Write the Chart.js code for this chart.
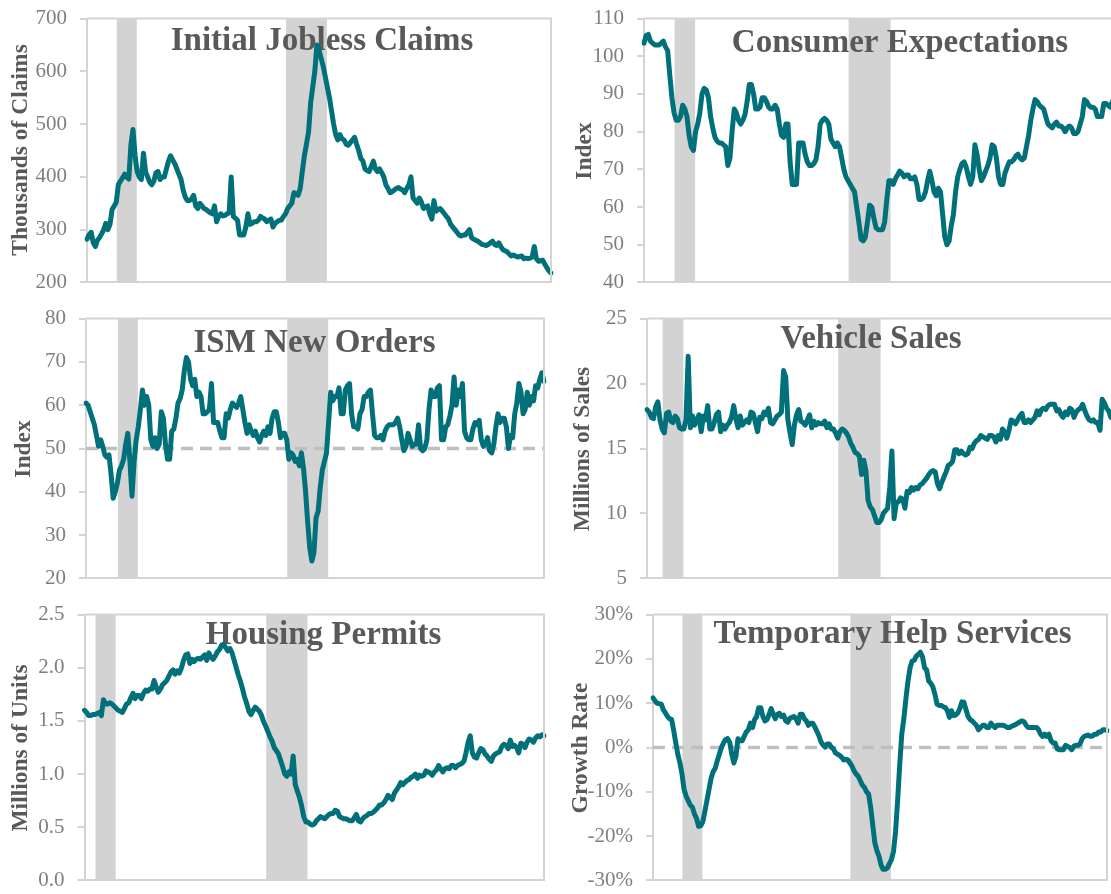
<!DOCTYPE html>
<html>
<head>
<meta charset="utf-8">
<script src="https://cdn.jsdelivr.net/npm/chart.js@4.4.1/dist/chart.umd.min.js"></script>
<style>
html,body{margin:0;padding:0;background:#fff;width:1111px;height:894px;overflow:hidden;position:relative;}
</style>
</head>
<body>
<script>
// ---------------- DATA ----------------
const recessions = [["2001-03", "2001-11"], ["2007-12", "2009-06"]];

const claimsStart = [1999, 12];
const claimsTicks = [200, 300, 400, 500, 600, 700];
const claimsValues = [
  282,
  290, 295, 275, 268, 280, 285, 292, 300, 312, 300, 310, 338,
  345, 352, 385, 392, 398, 405, 400, 396, 460, 490, 440, 410,
  400, 395, 445, 410, 400, 390, 385, 392, 408, 410, 395, 400,
  400, 415, 430, 440, 432, 425, 415, 405, 395, 375, 362, 355,
  355, 358, 365, 345, 340, 350, 345, 340, 338, 335, 332, 330,
  345, 315, 325, 330, 326, 327, 330, 332, 400, 325, 322, 318,
  290, 290, 290, 305, 330, 310, 312, 315, 315, 318, 325, 322,
  320, 315, 318, 320, 305, 312, 315, 318, 318, 325, 330, 340,
  345, 350, 370, 368, 365, 378, 410, 440, 462, 485, 540, 570,
  600, 650, 640, 625, 610, 590, 570, 550, 525, 500, 480, 470,
  480, 472, 470, 462, 460, 465, 470, 475, 462, 450, 435, 430,
  415, 412, 410, 420, 430, 415, 410, 415, 408, 400, 385, 378,
  370, 372, 375, 378, 380, 377, 375, 370, 378, 385, 400, 360,
  355, 350, 360, 352, 340, 343, 345, 330, 320, 355, 335, 338,
  340, 335, 330, 325, 320, 310, 305, 300, 295, 290, 288, 290,
  290, 295, 300, 285, 282, 280, 278, 275, 272, 271, 270, 272,
  275, 278, 272, 270, 275, 268, 262, 260, 258, 254, 250, 252,
  250, 248, 249, 250, 245, 246, 245, 246, 248, 268, 245, 240,
  241, 242, 235, 228, 222, 218
];

const expectationsStart = [1999, 12];
const expectationsTicks = [40, 50, 60, 70, 80, 90, 100, 110];
const expectationsValues = [
  103.5,
  105.5, 105.8, 104, 103.5, 103, 103, 103, 103.5, 104, 102.5, 101.5, 95,
  89, 85, 83, 83, 84, 87, 86, 84, 79, 76, 75, 80,
  82, 85, 90, 91.5, 91, 89, 84, 81, 78.5, 77.5, 77, 77,
  76.5, 76, 71, 73, 80, 86, 85, 83, 82, 83, 84.5, 88,
  92.5, 92.5, 90, 86, 86, 86.5, 89, 89, 88, 86.5, 86, 86,
  87, 86, 82, 79, 78.5, 82, 82, 72, 66, 66, 66, 77,
  77, 77, 74, 72, 71, 71, 71.5, 72.5, 76, 82, 83, 83.5,
  83, 82, 78, 77, 76, 77, 76, 73, 70, 68, 67, 66,
  65, 64, 60, 56, 51.5, 51, 52, 56, 60.5, 60, 57, 54.5,
  54, 54, 54, 56, 62, 67, 67, 66, 67.5, 68.5, 69.5, 69,
  68, 68.5, 68.5, 67.5, 67.5, 68, 66, 62, 62, 62.5, 64, 67,
  69.5, 67, 64, 63, 65, 64, 58, 52, 50, 51, 55, 58,
  64, 68, 70, 71.5, 72, 70.5, 68, 66, 68, 76.5, 74, 70,
  67, 68, 69.5, 71, 73, 76.5, 76, 73, 68, 66, 66, 69,
  70.5, 72, 72, 72.5, 73.5, 74, 73, 72.5, 73, 76, 79, 83,
  86, 88.5, 88, 87, 86.5, 86, 84, 82, 81.5, 81, 82, 82.5,
  81.5, 81.5, 81, 80, 81, 81.5, 81, 79.5, 79.5, 80, 82, 84,
  88.5, 88, 87, 86.5, 86.5, 86, 84, 84, 84, 87.5, 87.5, 87,
  86.5, 88, 89, 88.5, 89, 89.5
];

const ismStart = [1999, 11];
const ismTicks = [20, 30, 40, 50, 60, 70, 80];
const ismReference = 50;
const ismValues = [
  60.5, 60, 58.5, 57, 55.5, 53, 50.5, 52, 50.5, 48.5,
  48, 48.5, 44, 38.5, 40, 42, 45, 46, 47.5, 51,
  53.5, 47, 39, 47, 52, 55, 59, 63.5, 60, 62,
  60, 52, 50.5, 52.5, 50, 51, 58.5, 57, 51, 47.5,
  47.5, 54, 54.5, 57, 60.5, 61.5, 63.5, 68, 71, 70,
  66, 64.5, 66, 62, 63, 62, 58, 58, 58.5, 59,
  65, 56, 56, 56, 54, 52.5, 52.5, 58, 57, 59,
  60.5, 60, 59.5, 60.5, 62, 59, 56, 53.5, 55.5, 54,
  53, 54, 52.5, 51.5, 53, 54, 53, 55, 53.5, 57,
  58.5, 58.5, 56, 52.5, 53.5, 53.5, 52, 47.5, 49, 48.5,
  47, 47.5, 46, 49, 45.5, 40, 33, 27, 24, 26,
  34, 35.5, 41, 45, 47, 49, 56, 63, 61, 62,
  62, 64, 58, 58, 63.5, 64.5, 65, 58, 55, 55,
  54.5, 58, 59, 62, 62, 63, 63.5, 58, 53, 52.5,
  52.5, 53, 52, 54, 55, 55.5, 55.5, 55.5, 56, 57,
  55, 52, 49.5, 50.5, 53.5, 52, 50.5, 51, 51, 55.5,
  50, 49.5, 50, 52, 59, 63.5, 62, 62, 64, 64.5,
  52, 52, 55, 55.5, 57.5, 60, 66.5, 60, 63.5, 62,
  65, 54, 52.5, 52, 52, 54.5, 56, 55.5, 56.5, 52,
  50.5, 51, 52.5, 49.5, 49, 51, 55, 58, 56, 57,
  57, 55, 50, 53, 52.5, 58, 60.5, 65, 63, 58,
  59, 63, 60, 62, 61, 64.5, 64, 66, 67.5, 65.5
];

const vehicleStart = [2000, 7];
const vehicleTicks = [5, 10, 15, 20, 25];
const vehicleValues = [
  18.0, 17.8, 17.4, 17.3, 18.2, 18.6, 17.2, 16.5, 16.2, 17.7,
  17.8, 17.1, 17.0, 17.5, 17.3, 16.6, 16.5, 16.5, 17.2, 22.1,
  16.6, 17.5, 16.8, 17.2, 17.6, 16.3, 17.5, 17.2, 18.3, 16.5,
  16.5, 17.0, 17.6, 17.8, 16.3, 16.8, 16.5, 16.8, 17.0, 17.4,
  18.3, 17.3, 16.6, 17.5, 16.8, 17.0, 17.2, 17.0, 17.8, 17.7,
  17.0, 16.3, 17.4, 17.3, 17.8, 17.6, 18.1, 17.0, 16.9, 17.2,
  17.5, 17.6, 17.8, 21.0, 20.5, 17.2, 16.2, 15.3, 16.8, 17.6,
  18.0, 17.1, 17.0, 16.8, 17.2, 17.6, 16.6, 17.1, 16.8, 17.0,
  16.9, 16.9, 17.1, 16.6, 16.9, 16.5, 16.5, 16.2, 15.8, 16.3,
  16.5, 16.4, 16.2, 15.9, 15.4, 15.1, 14.7, 14.6, 14.4, 13.0,
  14.1, 13.3, 11.0, 10.5, 10.3, 9.8, 9.3, 9.3, 9.5, 10.0,
  10.2, 10.4, 12.0, 14.8, 9.6, 10.8, 10.9, 11.2, 11.1, 10.4,
  11.7, 11.6, 12.0, 11.8, 12.0, 11.9, 12.2, 12.3, 12.5, 12.7,
  13.0, 13.2, 13.3, 13.2, 12.3, 11.9, 12.4, 12.8, 13.2, 13.7,
  13.8, 14.0, 14.9, 14.9, 14.6, 14.8, 14.6, 14.5, 14.6, 15.1,
  15.0, 15.4, 15.6, 15.7, 16.0, 15.9, 15.8, 15.7, 16.0, 16.0,
  15.9, 15.5, 16.0, 15.7, 16.5, 16.3, 15.8, 16.4, 17.2, 17.1,
  16.9, 17.2, 17.5, 17.7, 17.0, 17.0, 17.2, 17.0, 17.2, 17.4,
  17.9, 17.6, 18.0, 18.1, 18.0, 18.3, 18.4, 18.4, 18.4, 17.9,
  18.0, 17.6, 17.4, 17.8, 17.6, 18.1, 18.0, 17.4, 17.8, 18.0,
  18.1, 18.4, 17.9, 17.5, 17.2, 17.1, 17.2, 17.0, 17.0, 16.4,
  18.8, 18.5, 18.1, 17.9, 17.4, 17.6
];

const permitsStart = [2000, 9];
const permitsTicks = [0, 0.5, 1.0, 1.5, 2.0, 2.5];
const permitsValues = [
  1.60, 1.58, 1.55, 1.55, 1.56, 1.56, 1.57, 1.58, 1.55, 1.70,
  1.66, 1.66, 1.67, 1.66, 1.64, 1.62, 1.60, 1.59, 1.58, 1.62,
  1.66, 1.67, 1.72, 1.76, 1.71, 1.74, 1.74, 1.71, 1.76, 1.79,
  1.78, 1.80, 1.80, 1.88, 1.82, 1.77, 1.80, 1.84, 1.86, 1.88,
  1.92, 1.96, 1.98, 1.94, 1.97, 1.95, 2.00, 2.07, 2.12, 2.13,
  2.04, 2.08, 2.06, 2.08, 2.09, 2.08, 2.10, 2.12, 2.07, 2.14,
  2.10, 2.08, 2.11, 2.15, 2.17, 2.21, 2.22, 2.19, 2.16, 2.18,
  2.14, 2.07, 2.00, 1.93, 1.87, 1.80, 1.72, 1.66, 1.59, 1.56,
  1.60, 1.63, 1.61, 1.59, 1.55, 1.49, 1.45, 1.40, 1.35, 1.31,
  1.25, 1.22, 1.19, 1.13, 1.07, 1.00, 0.98, 1.02, 1.00, 1.17,
  0.90, 0.84, 0.78, 0.70, 0.60, 0.55, 0.55, 0.53, 0.52, 0.53,
  0.56, 0.58, 0.60, 0.59, 0.58, 0.60, 0.62, 0.63, 0.63, 0.66,
  0.65, 0.60, 0.59, 0.58, 0.58, 0.57, 0.56, 0.56, 0.59, 0.62,
  0.56, 0.55, 0.58, 0.60, 0.61, 0.63, 0.63, 0.64, 0.66, 0.68,
  0.71, 0.71, 0.73, 0.76, 0.80, 0.78, 0.76, 0.82, 0.85, 0.88,
  0.92, 0.90, 0.92, 0.94, 0.95, 0.97, 0.98, 1.00, 0.96, 0.99,
  0.98, 0.99, 1.03, 1.02, 1.01, 0.99, 1.02, 1.04, 1.08, 1.05,
  1.02, 1.05, 1.06, 1.05, 1.08, 1.08, 1.06, 1.08, 1.09, 1.10,
  1.12, 1.20, 1.30, 1.36, 1.20, 1.16, 1.15, 1.20, 1.24, 1.23,
  1.19, 1.17, 1.14, 1.12, 1.17, 1.19, 1.20, 1.21, 1.26, 1.28,
  1.27, 1.24, 1.32, 1.26, 1.27, 1.25, 1.20, 1.29, 1.28, 1.25,
  1.30, 1.33, 1.32, 1.30, 1.34, 1.36, 1.35, 1.37, 1.36
];

const tempHelpStart = [1999, 12];
const tempHelpTicks = [-30, -20, -10, 0, 10, 20, 30];
const tempHelpReference = 0;
const tempHelpValues = [
  11.2, 10.5, 10, 9.9, 9.8, 8.5, 7.8, 7, 6.5, 6.3,
  3.8, 1, -1.6, -3.5, -6, -9.5, -11, -12, -13, -13.5,
  -15, -16, -17.8, -17.7, -16.8, -14.5, -12, -9.5, -7, -5.5,
  -4.7, -3, -1.5, 0, 1, 1.8, 2, 1.2, -1.5, -3.5,
  -2, 2, 1.5, 1.5, 2.5, 3.5, 4, 5.5, 4.5, 6.3,
  7, 9, 9, 7, 6, 6.3, 7.5, 8.8, 7.5, 6.5,
  7.5, 7.7, 7, 7.3, 6, 5.7, 6.6, 6.8, 7, 6.5,
  5.5, 7.5, 7.5, 6.5, 6, 5, 5.5, 5.5, 4.7, 3.7,
  2.7, 1.3, 0.6, 0.1, 0.8, 0.8, 0.1, -0.3, -1.2, -1.5,
  -1.8, -2.2, -2.8, -2.7, -2.8, -3.5, -4.2, -5.3, -6, -6.5,
  -7.5, -8.5, -9, -10, -10.5, -13.5, -17.5, -21.5, -23.3, -24.5,
  -26.5, -27.5, -27.5, -27.2, -26.3, -25.3, -23.5, -19, -12, -4,
  3, 6.5, 11, 15, 18, 19.5, 19.7, 20.6, 21, 21.5,
  20.5, 18, 17.5, 15, 14.5, 13.7, 12, 9.8, 9.5, 9.5,
  9.2, 9, 8.3, 6.8, 8.3, 7.2, 7.3, 7.8, 8.8, 10.3,
  10.2, 8.5, 7, 6.3, 6, 5.5, 5, 4, 4.5, 5,
  5, 4.5, 4.5, 5.5, 5, 4.5, 5, 5, 5, 5,
  4.8, 4.5, 4.5, 4.8, 5, 5.2, 5.5, 5.8, 6, 5.8,
  5, 4.5, 4.5, 4.5, 4.5, 4.5, 4, 3, 2.5, 3,
  2.5, 3, 1.5, 1, 1, -0.3, -0.5, -0.5, -0.5, 0.5,
  0.2, 0, -0.5, 0.3, 0.5, 0.5, 0.8, 2, 2.5, 2.7,
  2.8, 2.5, 2.6, 3, 3, 3.5, 3.5, 4, 4, 3.8
];

// ---------------- PANELS ----------------
const PANELS = [
  {title: "Initial Jobless Claims", axis: "Thousands of Claims", start: claimsStart, values: claimsValues, ticks: claimsTicks, ref: null, fmt: v => String(v)},
  {title: "Consumer Expectations", axis: "Index", start: expectationsStart, values: expectationsValues, ticks: expectationsTicks, ref: null, fmt: v => String(v)},
  {title: "ISM New Orders", axis: "Index", start: ismStart, values: ismValues, ticks: ismTicks, ref: ismReference, fmt: v => String(v)},
  {title: "Vehicle Sales", axis: "Millions of Sales", start: vehicleStart, values: vehicleValues, ticks: vehicleTicks, ref: null, fmt: v => String(v)},
  {title: "Housing Permits", axis: "Millions of Units", start: permitsStart, values: permitsValues, ticks: permitsTicks, ref: null, fmt: v => Number(v).toFixed(1)},
  {title: "Temporary Help Services", axis: "Growth Rate", start: tempHelpStart, values: tempHelpValues, ticks: tempHelpTicks, ref: tempHelpReference, fmt: v => Math.round(v) + "%"}
];

// layout (page pixels): plot box [left, top, right, bottom], canvas left, title pos, axis title center
const LAYOUT = [
  {plot: [87, 15.5, 551, 285.5], cl: 0,   title: [322, 50],    axis: [20.5, 150]},
  {plot: [644, 15.5, 1121, 285.5], cl: 560, title: [900, 51.5],  axis: [585, 151]},
  {plot: [86, 315, 544, 581.5], cl: 0,   title: [314.5, 352], axis: [24, 449]},
  {plot: [647, 315, 1113, 581.5], cl: 560, title: [871, 348],   axis: [583, 449]},
  {plot: [84.5, 611, 544, 884], cl: 0,   title: [323.5, 644], axis: [20.5, 748]},
  {plot: [653, 611.5, 1107, 884], cl: 560, title: [892.5, 643], axis: [580.5, 748]}
];

const TEAL = "#00707a";
const SHADE = "#d3d3d3";
const AXIS = "#d4d4d4";
const TXT = "#595959";
const TICK = "#7f7f7f";
const FONT = '"Liberation Serif", "DejaVu Serif", serif';

Chart.defaults.font.family = FONT;

function monthLabels(y, m, n) {
  const out = [];
  for (let i = 0; i < n; i++) {
    out.push(y + "-" + String(m).padStart(2, "0"));
    m++; if (m > 12) { m = 1; y++; }
  }
  return out;
}
function inRecession(label) {
  return recessions.some(r => label >= r[0] && label <= r[1]);
}

const decor = {
  id: "decor",
  beforeDatasetDraw(chart, args, o) {
    if (args.index !== 0) return;
    const ctx = chart.ctx;
    ctx.save();
    ctx.font = "bold 33px " + FONT;
    ctx.fillStyle = TXT;
    ctx.textAlign = "center";
    ctx.textBaseline = "alphabetic";
    ctx.fillText(o.title, o.tx, o.ty);
    ctx.restore();
  },
  afterDatasetsDraw(chart) {
    const ctx = chart.ctx, a = chart.chartArea;
    ctx.save();
    ctx.strokeStyle = AXIS;
    ctx.lineWidth = 2;
    ctx.beginPath();
    ctx.moveTo(a.left, a.top);
    ctx.lineTo(a.right, a.top);
    ctx.lineTo(a.right, a.bottom);
    ctx.stroke();
    ctx.restore();
  },
  afterDraw(chart, args, o) {
    const ctx = chart.ctx;
    ctx.save();
    ctx.font = "bold 23.5px " + FONT;
    ctx.fillStyle = TXT;
    ctx.textAlign = "center";
    ctx.textBaseline = "middle";
    ctx.translate(o.ax, o.ay);
    ctx.rotate(-Math.PI / 2);
    ctx.fillText(o.axis, 0, 0);
    ctx.restore();
  }
};

function makePanel(p, lay) {
  const [pl, pt, pr, pb] = lay.plot;
  const cl = lay.cl;
  const ct = Math.floor(pt) - 22;
  const cw = Math.ceil(pr + 14 - cl);
  const ch = Math.ceil(pb + 22 - ct);
  const wrap = document.createElement("div");
  wrap.style.cssText = "position:absolute;left:" + cl + "px;top:" + ct + "px;width:" + cw + "px;height:" + ch + "px;";
  const cv = document.createElement("canvas");
  cv.width = cw; cv.height = ch;
  cv.style.width = cw + "px"; cv.style.height = ch + "px";
  wrap.appendChild(cv);
  document.body.appendChild(wrap);

  const labels = monthLabels(p.start[0], p.start[1], p.values.length);
  const datasets = [
    {type: "line", data: p.values, borderColor: TEAL, borderWidth: 5, pointRadius: 0,
     tension: 0, borderJoinStyle: "round", borderCapStyle: "round", order: 0, yAxisID: "y"}
  ];
  if (p.ref !== null) {
    datasets.push({type: "line", data: [{x: labels[0], y: p.ref}, {x: labels[labels.length - 1], y: p.ref}],
      borderColor: "#bfbfbf", borderWidth: 3.5, borderDash: [12, 7], pointRadius: 0, order: 1, yAxisID: "y"});
  }
  datasets.push({type: "bar", data: labels.map(l => inRecession(l) ? 1 : null), backgroundColor: SHADE,
    borderWidth: 0, inflateAmount: 0.6, barPercentage: 1, categoryPercentage: 1, order: 3, yAxisID: "yr"});

  new Chart(cv, {
    type: "line",
    data: {labels, datasets},
    options: {
      responsive: false,
      animation: false,
      events: [],
      layout: {padding: {left: 0, top: pt - ct, right: cl + cw - pr, bottom: ct + ch - pb}},
      plugins: {
        legend: {display: false},
        tooltip: {enabled: false},
        decor: {title: p.title, tx: lay.title[0] - cl, ty: lay.title[1] - ct,
                axis: p.axis, ax: lay.axis[0] - cl, ay: lay.axis[1] - ct}
      },
      scales: {
        x: {type: "category", offset: false, grid: {display: false}, ticks: {display: false},
            border: {display: true, color: AXIS, width: 2},
            afterFit: s => { s.height = 0; }},
        y: {position: "left", min: p.ticks[0], max: p.ticks[p.ticks.length - 1],
            afterBuildTicks: s => { s.ticks = p.ticks.map(v => ({value: v})); },
            ticks: {callback: v => p.fmt(v), color: TICK, font: {size: 21, family: FONT}, padding: 13},
            grid: {drawOnChartArea: false, drawTicks: true, tickLength: 7, color: AXIS, lineWidth: 2},
            border: {display: true, color: AXIS, width: 2},
            afterFit: s => { s.width = pl - cl; }},
        yr: {display: false, min: 0, max: 1}
      }
    },
    plugins: [decor]
  });
}

PANELS.forEach((p, i) => makePanel(p, LAYOUT[i]));
</script>
</body>
</html>
